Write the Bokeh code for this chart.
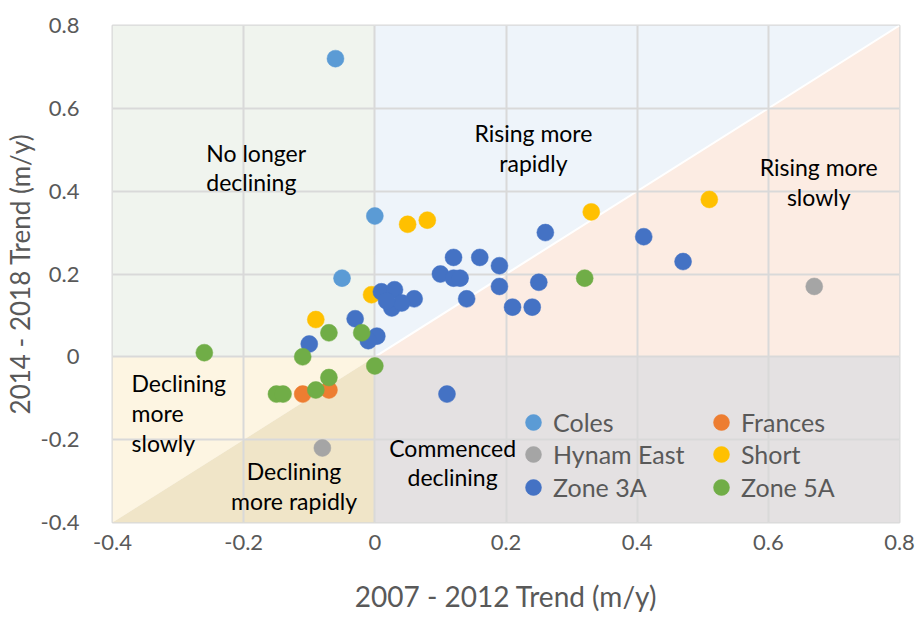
from bokeh.plotting import figure
from bokeh.models import FixedTicker, Legend, LegendItem, Title
from bokeh.core.properties import value
from bokeh.embed import file_html
from bokeh.resources import INLINE

# ---------------- data ----------------
coles_x = [-0.06, 0.0, -0.05]
coles_y = [0.72, 0.34, 0.19]

frances_x = [-0.11, -0.07]
frances_y = [-0.09, -0.08]

hynam_x = [0.67, -0.08]
hynam_y = [0.17, -0.22]

short_x = [-0.005, 0.05, 0.08, 0.33, 0.51, -0.09]
short_y = [0.15, 0.32, 0.33, 0.35, 0.38, 0.09]

zone3a_x = [0.11, 0.26, 0.41, 0.47, 0.12, 0.16, 0.19, 0.10, 0.12, 0.13,
            0.19, 0.25, 0.14, 0.21, 0.24, 0.06, 0.01, 0.03, 0.026, 0.041,
            0.018, -0.03, 0.003, -0.01, -0.10]
zone3a_y = [-0.09, 0.30, 0.29, 0.23, 0.24, 0.24, 0.22, 0.20, 0.19, 0.19,
            0.17, 0.18, 0.14, 0.12, 0.12, 0.14, 0.157, 0.162, 0.118, 0.13,
            0.135, 0.092, 0.05, 0.039, 0.031]

zone5a_x = [-0.26, -0.11, -0.07, -0.02, 0.0, 0.32, -0.15, -0.14, -0.09, -0.07]
zone5a_y = [0.01, 0.0, 0.058, 0.058, -0.022, 0.19, -0.09, -0.09, -0.08, -0.05]

series_names = ["Coles", "Frances", "Hynam East", "Short", "Zone 3A", "Zone 5A"]
series_colors = ["#5B9BD5", "#ED7D31", "#A5A5A5", "#FFC000", "#4472C4", "#70AD47"]

tick_values = [-0.4, -0.2, 0, 0.2, 0.4, 0.6, 0.8]
tick_labels = ["-0.4", "-0.2", "0", "0.2", "0.4", "0.6", "0.8"]

x_title = "2007 - 2012 Trend (m/y)"
y_title = "2014 - 2018 Trend (m/y)"

region_texts = [
    ("No longer", -0.257, 0.491, "left"),
    ("declining", -0.257, 0.421, "left"),
    ("Rising more", 0.2418, 0.5396, "center"),
    ("rapidly", 0.2418, 0.467, "center"),
    ("Rising more", 0.6768, 0.4575, "center"),
    ("slowly", 0.6768, 0.385, "center"),
    ("Declining", -0.371, -0.0643, "left"),
    ("more", -0.371, -0.1367, "left"),
    ("slowly", -0.371, -0.209, "left"),
    ("Declining", -0.1232, -0.2768, "center"),
    ("more rapidly", -0.1232, -0.349, "center"),
    ("Commenced", 0.1186, -0.2213, "center"),
    ("declining", 0.1186, -0.2913, "center"),
]

LO, HI = -0.4, 0.8
FONT = "Lato"
GRAY_TEXT = "#595959"

p = figure(width=916, height=615, x_range=(LO, HI), y_range=(LO, HI),
           output_backend="svg", toolbar_location=None,
           min_border_left=110, min_border_top=25, min_border_right=17,
           min_border_bottom=93)
p.background_fill_color = "white"
p.border_fill_color = "white"
p.outline_line_color = "#D9D9D9"
p.outline_line_width = 2

# quadrant shading
regions = [
    ([LO, 0, 0, LO], [0, 0, HI, HI], "#F0F4EE"),   # no longer declining
    ([0, HI, 0], [0, HI, HI], "#EEF4FA"),           # rising more rapidly
    ([0, HI, HI], [0, 0, HI], "#FCECE3"),           # rising more slowly
    ([0, HI, HI, 0], [LO, LO, 0, 0], "#E4E1E2"),    # commenced declining
    ([LO, 0, LO], [LO, 0, 0], "#FDF5E2"),           # declining more slowly
    ([LO, 0, 0], [LO, LO, 0], "#F0E5C8"),           # declining more rapidly
]
for xs, ys, c in regions:
    p.patch(xs, ys, fill_color=c, line_color=None, level="image")
p.line([0, HI], [0, HI], line_color="white", line_width=2, level="image")

# grid
for g in (p.xgrid, p.ygrid):
    g.grid_line_color = "#D9D9D9"
    g.grid_line_width = 2

ticker = FixedTicker(ticks=tick_values)
p.xaxis.ticker = ticker
p.yaxis.ticker = ticker
overrides = {v: t for v, t in zip(tick_values, tick_labels)}
p.xaxis.major_label_overrides = overrides
p.yaxis.major_label_overrides = overrides
for ax in (p.xaxis, p.yaxis):
    ax.axis_line_color = None
    ax.major_tick_line_color = None
    ax.minor_tick_line_color = None
    ax.major_label_text_font = FONT
    ax.major_label_text_font_size = "22px"
    ax.major_label_text_color = GRAY_TEXT
p.xaxis.major_label_standoff = 6
p.yaxis.major_label_standoff = 27

p.xaxis.axis_label = x_title
p.xaxis.axis_label_text_font = FONT
p.xaxis.axis_label_text_font_size = "28px"
p.xaxis.axis_label_text_font_style = "normal"
p.xaxis.axis_label_text_color = GRAY_TEXT
p.xaxis.axis_label_standoff = 26

p.add_layout(Title(text=y_title, align="center", offset=44, standoff=3,
                   text_font=FONT, text_font_size="26px", text_font_style="normal",
                   text_color=GRAY_TEXT), "left")

# region annotations
for txt, x, y, al in region_texts:
    p.text([x], [y], text=[txt], text_font=value(FONT), text_font_size="23px",
           text_color="black", text_align=al, text_baseline="middle")

# points
series = [(coles_x, coles_y), (frances_x, frances_y), (hynam_x, hynam_y),
          (short_x, short_y), (zone3a_x, zone3a_y), (zone5a_x, zone5a_y)]
renderers = []
for (xs, ys), c in zip(series, series_colors):
    r = p.scatter(xs, ys, size=17, fill_color=c, line_color=c, line_width=0.5)
    renderers.append(r)

# legend: one single-item legend per entry (two columns of three)
legend_slots = [(401, 80), (589, 80), (401, 48), (589, 48), (401, 15), (589, 15)]
for i, loc in enumerate(legend_slots):
    lg = Legend(items=[LegendItem(label=series_names[i], renderers=[renderers[i]])],
                location=loc, orientation="vertical",
                glyph_width=40, glyph_height=40, spacing=0, label_standoff=0,
                padding=0, margin=0, border_line_color=None,
                background_fill_alpha=0, label_text_font=FONT,
                label_text_font_size="25px", label_text_color=GRAY_TEXT)
    p.add_layout(lg, "center")

open("out.html", "w").write(file_html(p, INLINE))
